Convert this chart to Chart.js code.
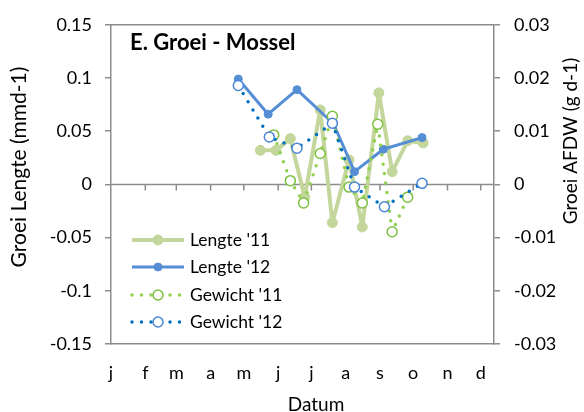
<!DOCTYPE html>
<html>
<head>
<meta charset="utf-8">
<script src="https://cdn.jsdelivr.net/npm/chart.js@4"></script>
<style>
  html, body { margin: 0; padding: 0; background: #fff; }
  #wrap { width: 584px; height: 412px; }
</style>
</head>
<body>
<div id="wrap"><canvas id="myChart" width="584" height="412"></canvas></div>
<script>
// maand-letters en de dag (vanaf 1 jan) waarop elke maand begint
const maanden = ['j','f','m','a','m','j','j','a','s','o','n','d']
const maandStart = [0,31,59,90,120,151,181,212,243,273,304,334]

// Lengte '11 (linker as, mm d-1)
const lengte11Dag = [135,149,162,175,189,200,215,227,242,254,268,282]
const lengte11 = [0.032,0.032,0.043,-0.012,0.070,-0.036,0.023,-0.040,0.086,0.012,0.041,0.039]

// Lengte '12 (linker as)
const lengte12Dag = [115,142,168,201,220,246,281]
const lengte12 = [0.099,0.066,0.089,0.057,0.012,0.033,0.044]

// Gewicht '11 (rechter as, g d-1)
const gewicht11Dag = [147,162,174,189,200,215,227,241,254,268]
const gewicht11 = [0.0093,0.0007,-0.0035,0.0058,0.0128,-0.0005,-0.0035,0.0113,-0.0089,-0.0024]

// Gewicht '12 (rechter as)
const gewicht12Dag = [115,143,168,200,220,247,281]
const gewicht12 = [0.0186,0.0089,0.0068,0.0115,-0.0005,-0.0042,0.0002]

const fontFam = 'Lato, "Open Sans", sans-serif'
const asKleur = '#8c8c8c'

function pts(xs, ys) {
  return xs.map((x, i) => ({x: x, y: ys[i]}))
}

// titel, legenda, nul-as en kader
const extra = {
  id: 'extra',
  beforeDatasetsDraw(chart) {
    const ctx = chart.ctx
    const a = chart.chartArea
    const x = chart.scales.x
    const y0 = chart.scales.y.getPixelForValue(0)
    ctx.save()
    ctx.strokeStyle = asKleur
    ctx.lineWidth = 1.5
    ctx.beginPath()
    ctx.moveTo(a.left, a.top); ctx.lineTo(a.right, a.top)
    ctx.moveTo(a.left, y0); ctx.lineTo(a.right, y0)
    maandStart.forEach(d => {
      if (d === 0) return
      const px = x.getPixelForValue(d)
      ctx.moveTo(px, y0); ctx.lineTo(px, y0 + 6)
    })
    ctx.stroke()
    ctx.restore()
  },
  afterDatasetsDraw(chart) {
    const ctx = chart.ctx
    const a = chart.chartArea
    ctx.save()
    // titel
    ctx.fillStyle = '#000'
    ctx.font = 'bold 22px ' + fontFam
    ctx.textAlign = 'left'
    ctx.textBaseline = 'middle'
    ctx.fillText('E. Groei - Mossel', a.left + 19, 43)

    // legenda
    const rijen = [240, 267, 295, 322]
    chart.data.datasets.forEach((ds, i) => {
      const yy = rijen[i]
      const x1 = a.left + 21, x2 = a.left + 73, xm = (x1 + x2) / 2
      ctx.beginPath()
      ctx.strokeStyle = ds.borderColor
      ctx.lineWidth = ds.borderWidth
      ctx.lineCap = ds.borderCapStyle || 'butt'
      ctx.setLineDash(ds.borderDash || [])
      ctx.moveTo(x1, yy); ctx.lineTo(x2, yy)
      ctx.stroke()
      ctx.setLineDash([])
      ctx.beginPath()
      ctx.arc(xm, yy, ds.pointRadius, 0, Math.PI * 2)
      ctx.fillStyle = ds.pointBackgroundColor
      ctx.fill()
      ctx.lineWidth = ds.pointBorderWidth
      ctx.strokeStyle = ds.pointBorderColor
      ctx.stroke()
      ctx.fillStyle = '#000'
      ctx.font = '17.5px ' + fontFam
      ctx.textAlign = 'left'
      ctx.textBaseline = 'middle'
      ctx.fillText(ds.label, x2 + 6, yy)
    })

    // as-titels
    ctx.font = '19px ' + fontFam
    ctx.textAlign = 'center'
    ctx.textBaseline = 'middle'
    ctx.fillText('Datum', 316, 405)
    ctx.save()
    ctx.translate(19, 167)
    ctx.rotate(-Math.PI / 2)
    ctx.font = '21px ' + fontFam
    ctx.fillText('Groei Lengte (mmd-1)', 0, 0)
    ctx.restore()
    ctx.save()
    ctx.translate(571, 141)
    ctx.rotate(-Math.PI / 2)
    ctx.font = '19px ' + fontFam
    ctx.fillText('Groei AFDW (g d-1)', 0, 0)
    ctx.restore()
    ctx.restore()
  }
}

const ctx = document.getElementById('myChart')
new Chart(ctx, {
  type: 'line',
  data: {
    datasets: [{
      label: "Lengte '11",
      data: pts(lengte11Dag, lengte11),
      yAxisID: 'y',
      borderColor: '#c3d69b',
      borderWidth: 4,
      borderJoinStyle: 'round',
      pointRadius: 5,
      pointBackgroundColor: '#c3d69b',
      pointBorderColor: '#c3d69b',
      pointBorderWidth: 1,
      order: 4
    }, {
      label: "Lengte '12",
      data: pts(lengte12Dag, lengte12),
      yAxisID: 'y',
      borderColor: '#558ed5',
      borderWidth: 3,
      borderJoinStyle: 'round',
      pointRadius: 4,
      pointBackgroundColor: '#558ed5',
      pointBorderColor: '#558ed5',
      pointBorderWidth: 1,
      order: 3
    }, {
      label: "Gewicht '11",
      data: pts(gewicht11Dag, gewicht11),
      yAxisID: 'y2',
      borderColor: '#92d050',
      borderWidth: 3.5,
      borderDash: [0, 9.5],
      borderCapStyle: 'round',
      pointRadius: 5,
      pointBackgroundColor: '#fff',
      pointBorderColor: '#7cc140',
      pointBorderWidth: 1.5,
      order: 2
    }, {
      label: "Gewicht '12",
      data: pts(gewicht12Dag, gewicht12),
      yAxisID: 'y2',
      borderColor: '#0070c0',
      borderWidth: 3.5,
      borderDash: [0, 9.5],
      borderCapStyle: 'round',
      pointRadius: 5,
      pointBackgroundColor: '#fff',
      pointBorderColor: '#4a86d8',
      pointBorderWidth: 1.5,
      order: 1
    }]
  },
  options: {
    responsive: false,
    animation: false,
    devicePixelRatio: 1,
    layout: { padding: { top: 15, left: 0, right: 0, bottom: 0 } },
    plugins: {
      legend: { display: false },
      title: { display: false },
      tooltip: { enabled: false }
    },
    scales: {
      x: {
        type: 'linear',
        min: 0,
        max: 346,
        afterFit(s) { s.height = 68 },
        afterBuildTicks(s) { s.ticks = maandStart.map(v => ({value: v})) },
        grid: { display: false },
        border: { display: true, color: asKleur, width: 1.5 },
        ticks: {
          padding: 10,
          color: '#000',
          font: { family: fontFam, size: 18 },
          maxRotation: 0,
          autoSkip: false,
          callback: (v, i) => maanden[i]
        }
      },
      y: {
        position: 'left',
        min: -0.15,
        max: 0.15,
        afterFit(s) { s.width = 111 },
        grid: { drawOnChartArea: false, tickLength: 6, color: asKleur, lineWidth: 1.5 },
        border: { display: true, color: asKleur, width: 1.5 },
        ticks: {
          stepSize: 0.05,
          padding: 13,
          color: '#000',
          font: { family: fontFam, size: 18 },
          callback: v => String(parseFloat(v.toFixed(2)))
        }
      },
      y2: {
        position: 'right',
        min: -0.03,
        max: 0.03,
        afterFit(s) { s.width = 90 },
        grid: { drawOnChartArea: false, tickLength: 6, color: asKleur, lineWidth: 1.5 },
        border: { display: true, color: asKleur, width: 1.5 },
        ticks: {
          stepSize: 0.01,
          padding: 14,
          color: '#000',
          font: { family: fontFam, size: 18 },
          callback: v => String(parseFloat(v.toFixed(2)))
        }
      }
    }
  },
  plugins: [extra]
})
</script>
</body>
</html>
